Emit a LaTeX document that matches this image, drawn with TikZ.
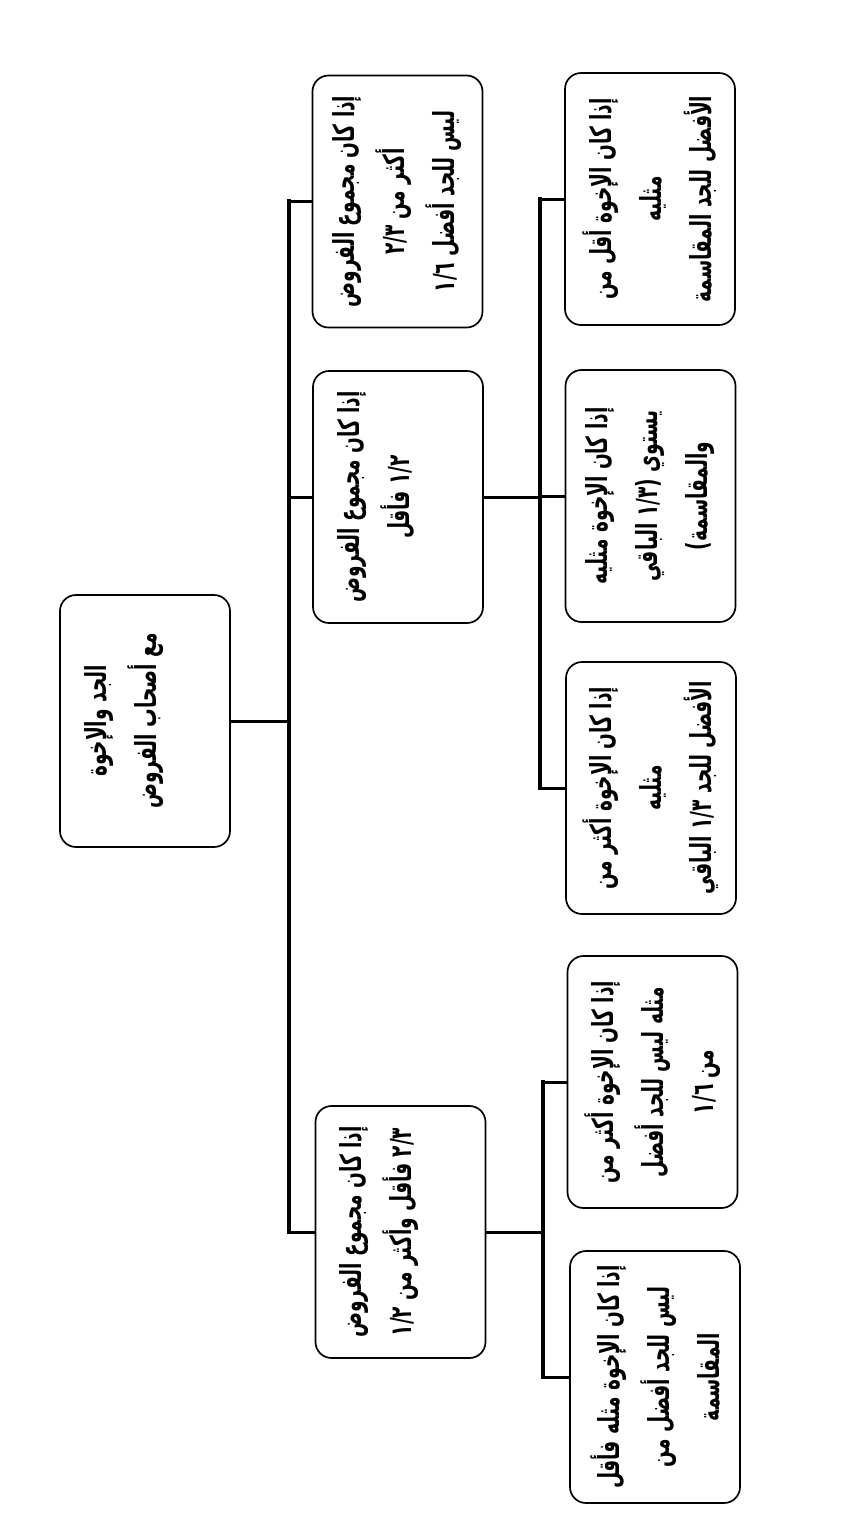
\documentclass[tikz,border=0pt]{standalone}
\usepackage{fontspec}
\newfontfamily\arabicfont[Script=Arabic,FakeStretch=0.64]{DejaVu Sans}
\TeXXeTstate=1
\newcommand{\arline}[1]{\beginR #1\endR}
\newcommand{\boxfont}{\arabicfont\bfseries\fontsize{14.5}{25}\selectfont\lineskiplimit=-60pt\relax}
\tikzset{
  box/.style={draw, line width=0.85pt, rounded corners=8pt, rotate=90, fill=white,
    minimum width=126pt, minimum height=85pt, inner sep=0pt, align=center,
    font=\boxfont},
  busline/.style={line width=2.4pt, line cap=rect},
  link/.style={line width=1.5pt},
}
\begin{document}
\begin{tikzpicture}[x=0.5pt,y=-0.5pt]
\useasboundingbox (0,0) rectangle (866,1523);
\fill[white] (0,0) rectangle (866,1523);
% level 0 (two lines set in the upper part of the box)
\node[box] (root) at (145,721) {\arline{الجد والإخوة}\\\arline{مع أصحاب الفروض}\\\mbox{}};
% level 1
\node[box] (A) at (397.5,201.5) {\arline{إذا كان مجموع الفروض}\\\arline{أكثر من ٢/٣}\\\arline{ليس للجد أفضل ١/٦}};
\node[box] (B) at (398,497) {\arline{إذا كان مجموع الفروض}\\\arline{١/٢ فأقل}\\\mbox{}};
\node[box] (C) at (400.5,1232) {\arline{إذا كان مجموع الفروض}\\\arline{٢/٣ فأقل وأكثر من ١/٢}\\\mbox{}};
% level 2
\node[box] (B1) at (650,199) {\arline{إذا كان الإخوة أقل من}\\\arline{مثليه}\\\arline{الأفضل للجد المقاسمة}};
\node[box] (B2) at (650.5,496) {\arline{إذا كان الإخوة مثليه}\\\arline{يستوي (١/٣ الباقي}\\\arline{والمقاسمة)}};
\node[box] (B3) at (651,788) {\arline{إذا كان الإخوة أكثر من}\\\arline{مثليه}\\\arline{الأفضل للجد ١/٣ الباقي}};
\node[box] (C1) at (652.5,1082) {\arline{إذا كان الإخوة أكثر من}\\\arline{مثله ليس للجد أفضل}\\\arline{من ١/٦}};
\node[box] (C2) at (655,1377) {\arline{إذا كان الإخوة مثله فأقل}\\\arline{ليس للجد أفضل من}\\\arline{المقاسمة}};
% bus coordinates
\coordinate (bus1) at (289,0);
\coordinate (busB) at (540,0);
\coordinate (busC) at (543,0);
% connectors level 0 -> 1
\draw[link] (root.south) -- (root.south -| bus1);
\draw[busline] (A.north -| bus1) -- (C.north -| bus1);
\draw[link] (A.north -| bus1) -- (A.north);
\draw[link] (B.north -| bus1) -- (B.north);
\draw[link] (C.north -| bus1) -- (C.north);
% connectors B -> level 2
\draw[link] (B.south) -- (B.south -| busB);
\draw[busline] (B1.north -| busB) -- (B3.north -| busB);
\draw[link] (B1.north -| busB) -- (B1.north);
\draw[link] (B2.north -| busB) -- (B2.north);
\draw[link] (B3.north -| busB) -- (B3.north);
% connectors C -> level 2
\draw[link] (C.south) -- (C.south -| busC);
\draw[busline] (C1.north -| busC) -- (C2.north -| busC);
\draw[link] (C1.north -| busC) -- (C1.north);
\draw[link] (C2.north -| busC) -- (C2.north);
\end{tikzpicture}
\end{document}
